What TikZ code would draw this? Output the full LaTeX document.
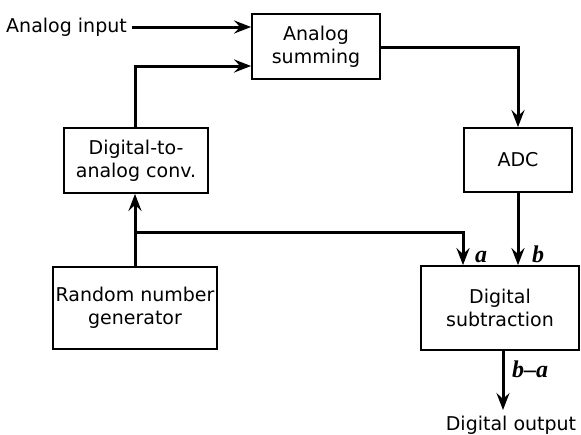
\documentclass[tikz,border=0pt]{standalone}
\usepackage{fontspec}
\setmainfont{DejaVu Sans}
\newfontfamily\lblfont{Liberation Serif}
\usetikzlibrary{arrows.meta}
\begin{document}
\begin{tikzpicture}[x=1pt,y=-1pt,
  blk/.style={draw, line width=1.8pt, inner sep=0pt, align=center,
    font=\fontsize{19}{23}\selectfont},
  txt/.style={inner sep=0pt, font=\fontsize{19}{23}\selectfont},
  lbl/.style={inner sep=0pt, anchor=base west, font=\lblfont\bfseries\itshape\fontsize{24}{23}\selectfont},
  wire/.style={line width=3pt},
  arr/.style={wire, -{Stealth[length=17pt, width=13pt, inset=6pt]}}]
\useasboundingbox (0,0) rectangle (581,434);
\node[blk, minimum width=128pt, minimum height=65pt] (sum) at (316,46.5) {Analog\\summing};
\node[blk, minimum width=144pt, minimum height=65pt] (dac) at (136,160.5) {Digital-to-\\analog conv.};
\node[blk, minimum width=108pt, minimum height=64pt] (adc) at (518,160) {ADC};
\node[blk, minimum width=164pt, minimum height=82pt] (rng) at (135,308) {Random number\\generator};
\node[blk, minimum width=158pt, minimum height=84pt] (sub) at (500,308) {Digital\\subtraction};
\node[txt, anchor=east] (in) at (127,27) {Analog input};
\coordinate (j) at (135,232);
\coordinate (ot) at (503,410);
\node[txt, anchor=base] (out) at (511,430) {Digital output};
% connectors
\draw[arr] ([xshift=5pt]in.east) -- (sum.west |- in.east);
\draw[arr] (dac.north -| j) |- ([yshift=-19.5pt]sum.west);
\draw[arr] (sum.east |- 0,47) -| (adc.north);
\draw[arr] (adc.south) -- (adc.south |- sub.north);
\draw[arr] (rng.north -| j) -- (dac.south -| j);
\draw[arr] (j) -| (sub.north -| 463,0);
\draw[arr] (sub.south -| ot) -- (ot);
\node[lbl] (la) at (475,262) {a};
\node[lbl] (lb) at (532,262) {b};
\node[lbl] (lba) at (512,377) {b–a};
\end{tikzpicture}
\end{document}
